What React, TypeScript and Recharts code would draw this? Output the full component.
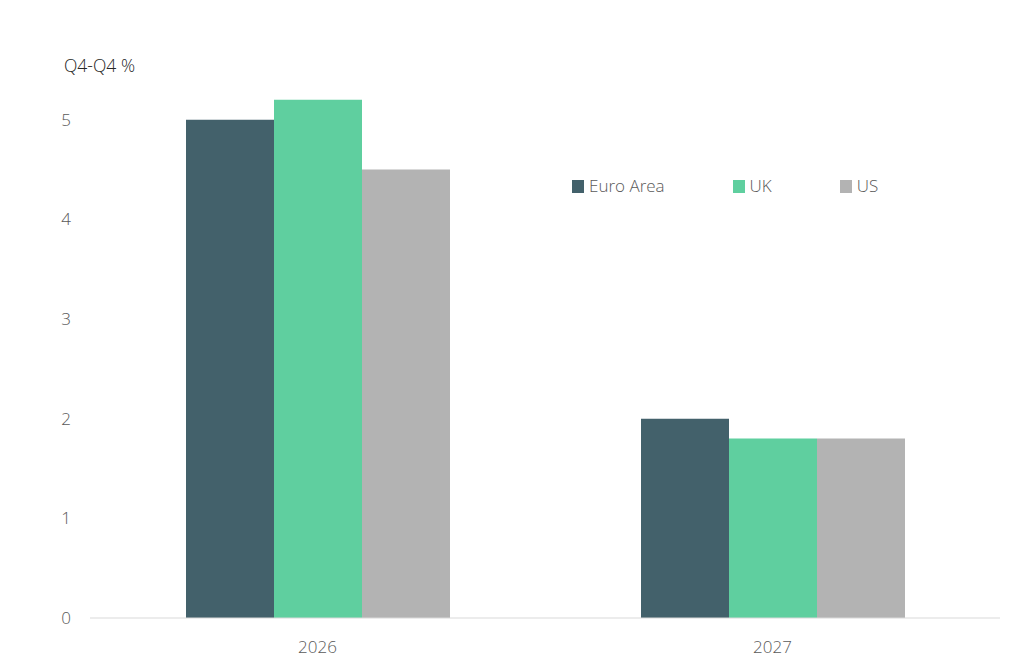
import React from 'react';
import { BarChart, Bar, XAxis, YAxis } from 'recharts';

const years = ['2026', '2027'];
const euroArea = [5.0, 2.0];
const uk = [5.2, 1.8];
const us = [4.5, 1.8];
const yTicks = [0, 1, 2, 3, 4, 5];

const series = [
  { key: 'euroArea', name: 'Euro Area', color: '#43616b' },
  { key: 'uk', name: 'UK', color: '#5fcf9f' },
  { key: 'us', name: 'US', color: '#b3b3b3' },
];

const data = years.map((year, i) => ({
  year,
  euroArea: euroArea[i],
  uk: uk[i],
  us: us[i],
}));

const FONT = '"Open Sans", "Noto Sans", sans-serif';

const LegendBox = () => (
  <div style={{ display: 'flex', alignItems: 'center', gap: 68, fontFamily: FONT, fontWeight: 300, fontSize: 17, color: '#595959' }}>
    {series.map((s) => (
      <div key={s.key} style={{ display: 'flex', alignItems: 'center' }}>
        <span style={{ display: 'inline-block', width: 12, height: 13, background: s.color, marginRight: 5 }} />
        <span>{s.name}</span>
      </div>
    ))}
  </div>
);

export default function App() {
  return (
    <div style={{ position: 'absolute', left: 0, top: 0, width: 1024, height: 669, background: '#fff' }}>
      <div style={{ position: 'absolute', left: 64, top: 53, fontFamily: FONT, fontSize: 17.5, fontWeight: 300, color: '#262626', lineHeight: '24px' }}>
        Q4-Q4 %
      </div>
      <div style={{ position: 'absolute', left: 572, top: 174, lineHeight: '24px' }}>
        <LegendBox />
      </div>
      <BarChart
        width={1024}
        height={669}
        data={data}
        margin={{ top: 20, right: 24, bottom: 0, left: 0 }}
        barGap={0}
        barSize={88}
      >
        <XAxis
          dataKey="year"
          height={51}
          tickLine={false}
          axisLine={{ stroke: '#d9d9d9' }}
          tick={{ fill: '#595959', fontSize: 17, fontWeight: 300, fontFamily: FONT }}
          tickMargin={17}
        />
        <YAxis
          width={90}
          domain={[0, 6]}
          ticks={yTicks}
          tickLine={false}
          axisLine={false}
          tickSize={0}
          tickMargin={19}
          tick={{ fill: '#595959', fontSize: 17, fontWeight: 300, fontFamily: FONT }}
        />
        {series.map((s) => (
          <Bar key={s.key} dataKey={s.key} name={s.name} fill={s.color} isAnimationActive={false} />
        ))}
      </BarChart>
    </div>
  );
}
